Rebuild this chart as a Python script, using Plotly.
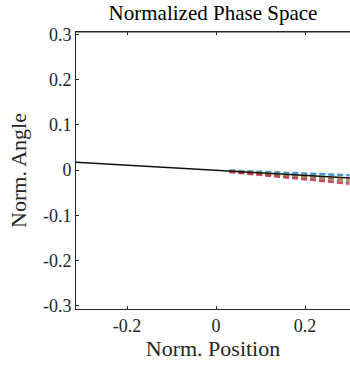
import plotly.graph_objects as go

# Reference trajectory (solid black)
ref_x = [-0.3146, 0.3011]
ref_y = [0.0177, -0.0177]

# Dashed particle trajectories
dash_x = [0.03, 0.30]
dash_series = {
    "blue":   [-0.0010, -0.0115],
    "orange": [-0.0020, -0.0195],
    "purple": [-0.0028, -0.0235],
    "green":  [-0.0032, -0.0260],
    "red":    [-0.0040, -0.0300],
}
dash_colors = {
    "blue": "rgba(0,114,189,0.75)",
    "orange": "rgba(237,177,32,0.85)",
    "purple": "rgba(126,47,142,0.6)",
    "green": "rgba(119,172,48,0.6)",
    "red": "rgba(200,20,60,0.75)",
}

x_range = [-0.3146, 0.3011]
y_range = [-0.3077, 0.306]
x_ticks = [-0.2, 0, 0.2]
x_tick_text = ["-0.2", "0", "0.2"]
y_ticks = [-0.3, -0.2, -0.1, 0, 0.1, 0.2, 0.3]
y_tick_text = ["-0.3", "-0.2", "-0.1", "0", "0.1", "0.2", "0.3"]

fig = go.Figure()
for name, ys in dash_series.items():
    fig.add_trace(go.Scatter(x=dash_x, y=ys, mode="lines",
                             line=dict(color=dash_colors[name], width=2.5, dash="6px,3px"),
                             showlegend=False, hoverinfo="skip"))
fig.add_trace(go.Scatter(x=ref_x, y=ref_y, mode="lines",
                         line=dict(color="#111111", width=1.5),
                         showlegend=False, hoverinfo="skip"))
# invisible trace to activate the top axis
fig.add_trace(go.Scatter(x=[x_range[0]], y=[y_range[0]], xaxis="x2", yaxis="y",
                         mode="markers", marker=dict(opacity=0),
                         showlegend=False, hoverinfo="skip"))

ff = "Liberation Serif"
axis_color = "#262626"
fig.update_layout(
    width=350, height=366,
    margin=dict(l=76, r=0, t=32, b=57),
    paper_bgcolor="white", plot_bgcolor="white",
    font=dict(family=ff, color=axis_color, size=18),
    title=dict(text="Normalized Phase Space", x=0.5, xanchor="center",
               xref="paper", yref="container", y=1 - 5 / 366, yanchor="top",
               font=dict(family=ff, size=21, color="black")),
    xaxis=dict(range=x_range, tickvals=x_ticks, ticktext=x_tick_text,
               ticks="inside", ticklen=3, tickcolor=axis_color, showgrid=False,
               zeroline=False, showline=True, linecolor=axis_color, linewidth=1,
               mirror=False,
               title=dict(text="Norm. Position", font=dict(family=ff, size=22, color=axis_color), standoff=4),
               tickfont=dict(family=ff, size=18, color=axis_color)),
    xaxis2=dict(range=x_range, tickvals=x_ticks, overlaying="x", side="top",
                anchor="y", showticklabels=False, ticks="inside", ticklen=3,
                tickcolor=axis_color, showgrid=False, zeroline=False,
                showline=True, linecolor=axis_color, linewidth=1),
    yaxis=dict(range=y_range, tickvals=y_ticks, ticktext=y_tick_text,
               ticks="inside", ticklen=3, tickcolor=axis_color, showgrid=False,
               zeroline=False, showline=True, linecolor=axis_color, linewidth=1,
               title=dict(text="Norm. Angle", font=dict(family=ff, size=22, color=axis_color), standoff=10),
               tickfont=dict(family=ff, size=18, color=axis_color)),
    shapes=[dict(type="line", xref="paper", yref="paper", x0=0, x1=1, y0=1, y1=1,
                 line=dict(color=axis_color, width=1))],
)

fig.write_html("out.html")
